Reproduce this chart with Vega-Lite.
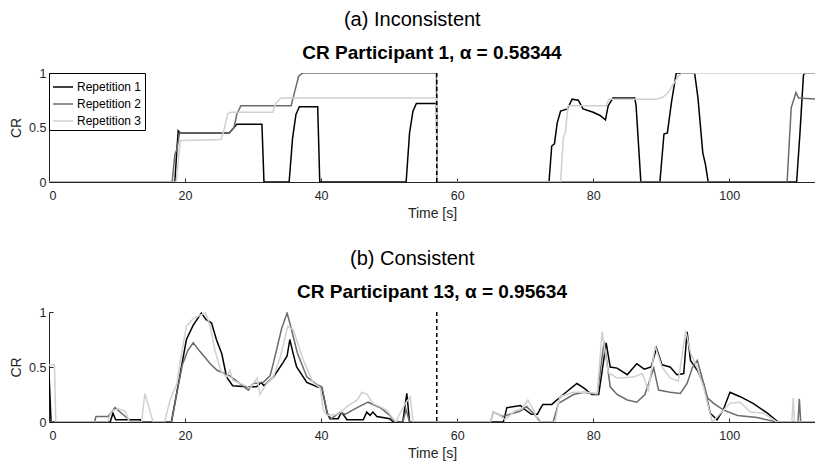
{
  "$schema": "https://vega.github.io/schema/vega-lite/v6.json",
  "padding": {"left": 9, "top": 10, "right": 0, "bottom": 0},
  "background": "white",
  "config": {
    "font": "Liberation Sans",
    "view": {"stroke": null},
    "concat": {"spacing": 28},
    "axis": {"grid": false, "domainColor": "#262626", "tickColor": "#262626", "labelColor": "#262626", "titleColor": "#262626", "labelFontSize": 12.5, "titleFontSize": 14, "titleFontWeight": "normal", "tickSize": -4, "domainWidth": 1},
    "axisX": {"labelPadding": 11, "titlePadding": 5},
    "axisY": {"labelPadding": 7, "titlePadding": 5}
  },
  "datasets": {
    "top": [
      {"rep": "Repetition 1", "t": 0, "v": 0}, {"rep": "Repetition 1", "t": 18.5, "v": 0}, {"rep": "Repetition 1", "t": 18.8, "v": 0.3}, {"rep": "Repetition 1", "t": 19.0, "v": 0.47}, {"rep": "Repetition 1", "t": 19.3, "v": 0.45}, {"rep": "Repetition 1", "t": 26.5, "v": 0.45}, {"rep": "Repetition 1", "t": 27.2, "v": 0.5}, {"rep": "Repetition 1", "t": 27.6, "v": 0.53}, {"rep": "Repetition 1", "t": 31.3, "v": 0.53}, {"rep": "Repetition 1", "t": 31.6, "v": 0}, {"rep": "Repetition 1", "t": 35.3, "v": 0}, {"rep": "Repetition 1", "t": 35.8, "v": 0.4}, {"rep": "Repetition 1", "t": 36.3, "v": 0.62}, {"rep": "Repetition 1", "t": 36.8, "v": 0.69}, {"rep": "Repetition 1", "t": 39.5, "v": 0.69}, {"rep": "Repetition 1", "t": 39.8, "v": 0}, {"rep": "Repetition 1", "t": 52.5, "v": 0}, {"rep": "Repetition 1", "t": 53.0, "v": 0.45}, {"rep": "Repetition 1", "t": 53.5, "v": 0.65}, {"rep": "Repetition 1", "t": 54.0, "v": 0.72}, {"rep": "Repetition 1", "t": 56.95, "v": 0.72}, {"rep": "Repetition 1", "t": 57.05, "v": 0}, {"rep": "Repetition 1", "t": 73.5, "v": 0}, {"rep": "Repetition 1", "t": 73.9, "v": 0.33}, {"rep": "Repetition 1", "t": 74.3, "v": 0.35}, {"rep": "Repetition 1", "t": 74.7, "v": 0.54}, {"rep": "Repetition 1", "t": 75.2, "v": 0.65}, {"rep": "Repetition 1", "t": 76.2, "v": 0.67}, {"rep": "Repetition 1", "t": 76.9, "v": 0.76}, {"rep": "Repetition 1", "t": 77.8, "v": 0.75}, {"rep": "Repetition 1", "t": 78.5, "v": 0.67}, {"rep": "Repetition 1", "t": 80, "v": 0.64}, {"rep": "Repetition 1", "t": 81, "v": 0.61}, {"rep": "Repetition 1", "t": 81.8, "v": 0.57}, {"rep": "Repetition 1", "t": 82.2, "v": 0.7}, {"rep": "Repetition 1", "t": 82.9, "v": 0.77}, {"rep": "Repetition 1", "t": 86.1, "v": 0.77}, {"rep": "Repetition 1", "t": 86.3, "v": 0.7}, {"rep": "Repetition 1", "t": 87.0, "v": 0}, {"rep": "Repetition 1", "t": 89.8, "v": 0}, {"rep": "Repetition 1", "t": 90.4, "v": 0.44}, {"rep": "Repetition 1", "t": 90.9, "v": 0.45}, {"rep": "Repetition 1", "t": 91.5, "v": 0.73}, {"rep": "Repetition 1", "t": 92.2, "v": 1.0}, {"rep": "Repetition 1", "t": 94.9, "v": 1.0}, {"rep": "Repetition 1", "t": 95.4, "v": 0.77}, {"rep": "Repetition 1", "t": 96.1, "v": 0.27}, {"rep": "Repetition 1", "t": 96.5, "v": 0.16}, {"rep": "Repetition 1", "t": 96.9, "v": 0}, {"rep": "Repetition 1", "t": 109.9, "v": 0}, {"rep": "Repetition 1", "t": 110.4, "v": 0.46}, {"rep": "Repetition 1", "t": 110.9, "v": 0.98}, {"rep": "Repetition 1", "t": 111.1, "v": 1.0}, {"rep": "Repetition 1", "t": 113, "v": 1.0},
      {"rep": "Repetition 2", "t": 0, "v": 0}, {"rep": "Repetition 2", "t": 18.1, "v": 0}, {"rep": "Repetition 2", "t": 18.5, "v": 0.25}, {"rep": "Repetition 2", "t": 18.8, "v": 0.3}, {"rep": "Repetition 2", "t": 19.2, "v": 0.45}, {"rep": "Repetition 2", "t": 26.5, "v": 0.45}, {"rep": "Repetition 2", "t": 27.2, "v": 0.5}, {"rep": "Repetition 2", "t": 27.6, "v": 0.62}, {"rep": "Repetition 2", "t": 28.2, "v": 0.7}, {"rep": "Repetition 2", "t": 35.6, "v": 0.7}, {"rep": "Repetition 2", "t": 36.2, "v": 0.85}, {"rep": "Repetition 2", "t": 36.7, "v": 0.97}, {"rep": "Repetition 2", "t": 37.3, "v": 1.0}, {"rep": "Repetition 2", "t": 56.95, "v": 1.0}, {"rep": "Repetition 2", "t": 57.05, "v": 0}, {"rep": "Repetition 2", "t": 108.5, "v": 0}, {"rep": "Repetition 2", "t": 109.1, "v": 0.68}, {"rep": "Repetition 2", "t": 109.8, "v": 0.82}, {"rep": "Repetition 2", "t": 110.2, "v": 0.77}, {"rep": "Repetition 2", "t": 113, "v": 0.76},
      {"rep": "Repetition 3", "t": 0, "v": 0}, {"rep": "Repetition 3", "t": 18.7, "v": 0}, {"rep": "Repetition 3", "t": 19.3, "v": 0.38}, {"rep": "Repetition 3", "t": 19.7, "v": 0.38}, {"rep": "Repetition 3", "t": 25.3, "v": 0.39}, {"rep": "Repetition 3", "t": 25.8, "v": 0.5}, {"rep": "Repetition 3", "t": 26.3, "v": 0.63}, {"rep": "Repetition 3", "t": 26.8, "v": 0.64}, {"rep": "Repetition 3", "t": 32.9, "v": 0.64}, {"rep": "Repetition 3", "t": 33.3, "v": 0.72}, {"rep": "Repetition 3", "t": 34.1, "v": 0.77}, {"rep": "Repetition 3", "t": 56.95, "v": 0.77}, {"rep": "Repetition 3", "t": 57.05, "v": 0}, {"rep": "Repetition 3", "t": 75.2, "v": 0}, {"rep": "Repetition 3", "t": 75.6, "v": 0.41}, {"rep": "Repetition 3", "t": 75.9, "v": 0.45}, {"rep": "Repetition 3", "t": 76.3, "v": 0.7}, {"rep": "Repetition 3", "t": 81.9, "v": 0.7}, {"rep": "Repetition 3", "t": 82.3, "v": 0.76}, {"rep": "Repetition 3", "t": 89.3, "v": 0.76}, {"rep": "Repetition 3", "t": 90.3, "v": 0.78}, {"rep": "Repetition 3", "t": 91, "v": 0.82}, {"rep": "Repetition 3", "t": 91.8, "v": 0.9}, {"rep": "Repetition 3", "t": 92.5, "v": 0.97}, {"rep": "Repetition 3", "t": 93.1, "v": 1.0}, {"rep": "Repetition 3", "t": 113, "v": 1.0}
    ],
    "bottom": [
      {"rep": "Repetition 1", "t": 0, "v": 0.45}, {"rep": "Repetition 1", "t": 0.3, "v": 0}, {"rep": "Repetition 1", "t": 9.0, "v": 0}, {"rep": "Repetition 1", "t": 9.4, "v": 0.08}, {"rep": "Repetition 1", "t": 9.8, "v": 0.02}, {"rep": "Repetition 1", "t": 13.4, "v": 0.02}, {"rep": "Repetition 1", "t": 13.6, "v": 0}, {"rep": "Repetition 1", "t": 18, "v": 0}, {"rep": "Repetition 1", "t": 19.2, "v": 0.41}, {"rep": "Repetition 1", "t": 20.2, "v": 0.75}, {"rep": "Repetition 1", "t": 21.2, "v": 0.88}, {"rep": "Repetition 1", "t": 22.4, "v": 0.99}, {"rep": "Repetition 1", "t": 23.1, "v": 0.93}, {"rep": "Repetition 1", "t": 23.9, "v": 0.9}, {"rep": "Repetition 1", "t": 24.6, "v": 0.75}, {"rep": "Repetition 1", "t": 25.4, "v": 0.62}, {"rep": "Repetition 1", "t": 26.1, "v": 0.41}, {"rep": "Repetition 1", "t": 27, "v": 0.33}, {"rep": "Repetition 1", "t": 29, "v": 0.32}, {"rep": "Repetition 1", "t": 30.5, "v": 0.32}, {"rep": "Repetition 1", "t": 31.2, "v": 0.36}, {"rep": "Repetition 1", "t": 31.6, "v": 0.33}, {"rep": "Repetition 1", "t": 32.3, "v": 0.37}, {"rep": "Repetition 1", "t": 33, "v": 0.41}, {"rep": "Repetition 1", "t": 34.4, "v": 0.54}, {"rep": "Repetition 1", "t": 35.0, "v": 0.6}, {"rep": "Repetition 1", "t": 35.4, "v": 0.75}, {"rep": "Repetition 1", "t": 35.9, "v": 0.62}, {"rep": "Repetition 1", "t": 36.4, "v": 0.5}, {"rep": "Repetition 1", "t": 37.9, "v": 0.36}, {"rep": "Repetition 1", "t": 39.4, "v": 0.32}, {"rep": "Repetition 1", "t": 40.1, "v": 0.31}, {"rep": "Repetition 1", "t": 40.9, "v": 0.08}, {"rep": "Repetition 1", "t": 41.3, "v": 0.03}, {"rep": "Repetition 1", "t": 42.5, "v": 0.03}, {"rep": "Repetition 1", "t": 43, "v": 0.09}, {"rep": "Repetition 1", "t": 43.8, "v": 0.02}, {"rep": "Repetition 1", "t": 46.2, "v": 0.02}, {"rep": "Repetition 1", "t": 46.7, "v": 0.09}, {"rep": "Repetition 1", "t": 47.2, "v": 0.06}, {"rep": "Repetition 1", "t": 47.6, "v": 0.09}, {"rep": "Repetition 1", "t": 48.2, "v": 0.05}, {"rep": "Repetition 1", "t": 50.1, "v": 0.03}, {"rep": "Repetition 1", "t": 50.6, "v": 0}, {"rep": "Repetition 1", "t": 52, "v": 0}, {"rep": "Repetition 1", "t": 52.6, "v": 0.26}, {"rep": "Repetition 1", "t": 53, "v": 0}, {"rep": "Repetition 1", "t": 66.8, "v": 0}, {"rep": "Repetition 1", "t": 67.3, "v": 0.13}, {"rep": "Repetition 1", "t": 69.3, "v": 0.15}, {"rep": "Repetition 1", "t": 69.8, "v": 0.12}, {"rep": "Repetition 1", "t": 70.9, "v": 0.07}, {"rep": "Repetition 1", "t": 71.8, "v": 0.07}, {"rep": "Repetition 1", "t": 72.2, "v": 0.12}, {"rep": "Repetition 1", "t": 72.6, "v": 0.16}, {"rep": "Repetition 1", "t": 73.9, "v": 0.16}, {"rep": "Repetition 1", "t": 75.6, "v": 0.25}, {"rep": "Repetition 1", "t": 77.6, "v": 0.35}, {"rep": "Repetition 1", "t": 78.6, "v": 0.31}, {"rep": "Repetition 1", "t": 79.8, "v": 0.25}, {"rep": "Repetition 1", "t": 80.8, "v": 0.25}, {"rep": "Repetition 1", "t": 81.4, "v": 0.5}, {"rep": "Repetition 1", "t": 81.9, "v": 0.72}, {"rep": "Repetition 1", "t": 82.5, "v": 0.5}, {"rep": "Repetition 1", "t": 83.5, "v": 0.49}, {"rep": "Repetition 1", "t": 85, "v": 0.43}, {"rep": "Repetition 1", "t": 86.4, "v": 0.53}, {"rep": "Repetition 1", "t": 87.5, "v": 0.48}, {"rep": "Repetition 1", "t": 88.5, "v": 0.5}, {"rep": "Repetition 1", "t": 89.3, "v": 0.67}, {"rep": "Repetition 1", "t": 90.1, "v": 0.52}, {"rep": "Repetition 1", "t": 91.3, "v": 0.5}, {"rep": "Repetition 1", "t": 92.3, "v": 0.43}, {"rep": "Repetition 1", "t": 93.3, "v": 0.44}, {"rep": "Repetition 1", "t": 93.8, "v": 0.82}, {"rep": "Repetition 1", "t": 94.3, "v": 0.56}, {"rep": "Repetition 1", "t": 95.3, "v": 0.47}, {"rep": "Repetition 1", "t": 96.2, "v": 0.35}, {"rep": "Repetition 1", "t": 97.2, "v": 0.08}, {"rep": "Repetition 1", "t": 98.2, "v": 0.02}, {"rep": "Repetition 1", "t": 99.1, "v": 0.11}, {"rep": "Repetition 1", "t": 100.1, "v": 0.27}, {"rep": "Repetition 1", "t": 101.6, "v": 0.23}, {"rep": "Repetition 1", "t": 103.5, "v": 0.17}, {"rep": "Repetition 1", "t": 105.6, "v": 0.08}, {"rep": "Repetition 1", "t": 107.2, "v": 0}, {"rep": "Repetition 1", "t": 113, "v": 0},
      {"rep": "Repetition 2", "t": 0, "v": 0}, {"rep": "Repetition 2", "t": 6.7, "v": 0}, {"rep": "Repetition 2", "t": 6.9, "v": 0.05}, {"rep": "Repetition 2", "t": 8.7, "v": 0.05}, {"rep": "Repetition 2", "t": 9.7, "v": 0.13}, {"rep": "Repetition 2", "t": 11.6, "v": 0.03}, {"rep": "Repetition 2", "t": 12.2, "v": 0}, {"rep": "Repetition 2", "t": 18, "v": 0}, {"rep": "Repetition 2", "t": 18.6, "v": 0.2}, {"rep": "Repetition 2", "t": 19.6, "v": 0.52}, {"rep": "Repetition 2", "t": 20.4, "v": 0.65}, {"rep": "Repetition 2", "t": 21.2, "v": 0.72}, {"rep": "Repetition 2", "t": 22.2, "v": 0.64}, {"rep": "Repetition 2", "t": 23.7, "v": 0.53}, {"rep": "Repetition 2", "t": 24.7, "v": 0.47}, {"rep": "Repetition 2", "t": 26.6, "v": 0.42}, {"rep": "Repetition 2", "t": 29.3, "v": 0.29}, {"rep": "Repetition 2", "t": 30, "v": 0.35}, {"rep": "Repetition 2", "t": 31.5, "v": 0.36}, {"rep": "Repetition 2", "t": 32.5, "v": 0.42}, {"rep": "Repetition 2", "t": 33.0, "v": 0.54}, {"rep": "Repetition 2", "t": 33.7, "v": 0.72}, {"rep": "Repetition 2", "t": 34.2, "v": 0.85}, {"rep": "Repetition 2", "t": 35, "v": 0.99}, {"rep": "Repetition 2", "t": 35.4, "v": 0.9}, {"rep": "Repetition 2", "t": 36.5, "v": 0.63}, {"rep": "Repetition 2", "t": 37.9, "v": 0.41}, {"rep": "Repetition 2", "t": 39.4, "v": 0.34}, {"rep": "Repetition 2", "t": 40.1, "v": 0.32}, {"rep": "Repetition 2", "t": 40.9, "v": 0.08}, {"rep": "Repetition 2", "t": 41.5, "v": 0.03}, {"rep": "Repetition 2", "t": 42.8, "v": 0.09}, {"rep": "Repetition 2", "t": 43.5, "v": 0.07}, {"rep": "Repetition 2", "t": 45.3, "v": 0.13}, {"rep": "Repetition 2", "t": 46.9, "v": 0.18}, {"rep": "Repetition 2", "t": 48.7, "v": 0.13}, {"rep": "Repetition 2", "t": 50.1, "v": 0.06}, {"rep": "Repetition 2", "t": 50.6, "v": 0.02}, {"rep": "Repetition 2", "t": 51, "v": 0}, {"rep": "Repetition 2", "t": 52, "v": 0}, {"rep": "Repetition 2", "t": 52.5, "v": 0.11}, {"rep": "Repetition 2", "t": 53, "v": 0}, {"rep": "Repetition 2", "t": 64.9, "v": 0}, {"rep": "Repetition 2", "t": 65.3, "v": 0.09}, {"rep": "Repetition 2", "t": 66.7, "v": 0.05}, {"rep": "Repetition 2", "t": 69.3, "v": 0.1}, {"rep": "Repetition 2", "t": 70.2, "v": 0.14}, {"rep": "Repetition 2", "t": 71.2, "v": 0.08}, {"rep": "Repetition 2", "t": 72, "v": 0.02}, {"rep": "Repetition 2", "t": 72.2, "v": 0}, {"rep": "Repetition 2", "t": 74.1, "v": 0}, {"rep": "Repetition 2", "t": 74.9, "v": 0.17}, {"rep": "Repetition 2", "t": 77.1, "v": 0.25}, {"rep": "Repetition 2", "t": 78.6, "v": 0.27}, {"rep": "Repetition 2", "t": 80.6, "v": 0.25}, {"rep": "Repetition 2", "t": 81.6, "v": 0.73}, {"rep": "Repetition 2", "t": 82.5, "v": 0.32}, {"rep": "Repetition 2", "t": 83.5, "v": 0.25}, {"rep": "Repetition 2", "t": 85, "v": 0.2}, {"rep": "Repetition 2", "t": 86.4, "v": 0.18}, {"rep": "Repetition 2", "t": 87.6, "v": 0.25}, {"rep": "Repetition 2", "t": 88.9, "v": 0.49}, {"rep": "Repetition 2", "t": 89.6, "v": 0.29}, {"rep": "Repetition 2", "t": 91.3, "v": 0.27}, {"rep": "Repetition 2", "t": 92.8, "v": 0.26}, {"rep": "Repetition 2", "t": 93.8, "v": 0.35}, {"rep": "Repetition 2", "t": 94.6, "v": 0.5}, {"rep": "Repetition 2", "t": 95.3, "v": 0.56}, {"rep": "Repetition 2", "t": 95.7, "v": 0.47}, {"rep": "Repetition 2", "t": 96.8, "v": 0.22}, {"rep": "Repetition 2", "t": 97.7, "v": 0.17}, {"rep": "Repetition 2", "t": 99.1, "v": 0.11}, {"rep": "Repetition 2", "t": 101.2, "v": 0.06}, {"rep": "Repetition 2", "t": 104.1, "v": 0.04}, {"rep": "Repetition 2", "t": 107, "v": 0}, {"rep": "Repetition 2", "t": 110.1, "v": 0}, {"rep": "Repetition 2", "t": 110.3, "v": 0.21}, {"rep": "Repetition 2", "t": 110.5, "v": 0}, {"rep": "Repetition 2", "t": 113, "v": 0},
      {"rep": "Repetition 3", "t": 0, "v": 0.52}, {"rep": "Repetition 3", "t": 0.8, "v": 0.52}, {"rep": "Repetition 3", "t": 1.0, "v": 0}, {"rep": "Repetition 3", "t": 8.6, "v": 0}, {"rep": "Repetition 3", "t": 9.2, "v": 0.1}, {"rep": "Repetition 3", "t": 10.2, "v": 0.12}, {"rep": "Repetition 3", "t": 11.2, "v": 0.1}, {"rep": "Repetition 3", "t": 11.8, "v": 0}, {"rep": "Repetition 3", "t": 13.6, "v": 0}, {"rep": "Repetition 3", "t": 14.1, "v": 0.26}, {"rep": "Repetition 3", "t": 15.3, "v": 0}, {"rep": "Repetition 3", "t": 17, "v": 0}, {"rep": "Repetition 3", "t": 17.8, "v": 0.2}, {"rep": "Repetition 3", "t": 18.8, "v": 0.35}, {"rep": "Repetition 3", "t": 19.3, "v": 0.56}, {"rep": "Repetition 3", "t": 20.2, "v": 0.87}, {"rep": "Repetition 3", "t": 21.2, "v": 0.94}, {"rep": "Repetition 3", "t": 22.2, "v": 0.97}, {"rep": "Repetition 3", "t": 23, "v": 0.99}, {"rep": "Repetition 3", "t": 23.7, "v": 0.87}, {"rep": "Repetition 3", "t": 24.4, "v": 0.65}, {"rep": "Repetition 3", "t": 25.1, "v": 0.5}, {"rep": "Repetition 3", "t": 25.4, "v": 0.45}, {"rep": "Repetition 3", "t": 26.1, "v": 0.41}, {"rep": "Repetition 3", "t": 26.6, "v": 0.47}, {"rep": "Repetition 3", "t": 27, "v": 0.38}, {"rep": "Repetition 3", "t": 29.6, "v": 0.31}, {"rep": "Repetition 3", "t": 30.6, "v": 0.4}, {"rep": "Repetition 3", "t": 31, "v": 0.25}, {"rep": "Repetition 3", "t": 32, "v": 0.35}, {"rep": "Repetition 3", "t": 33, "v": 0.41}, {"rep": "Repetition 3", "t": 34, "v": 0.59}, {"rep": "Repetition 3", "t": 35.1, "v": 0.87}, {"rep": "Repetition 3", "t": 35.9, "v": 0.84}, {"rep": "Repetition 3", "t": 37.4, "v": 0.56}, {"rep": "Repetition 3", "t": 38.8, "v": 0.36}, {"rep": "Repetition 3", "t": 39.9, "v": 0.31}, {"rep": "Repetition 3", "t": 40.3, "v": 0.11}, {"rep": "Repetition 3", "t": 40.9, "v": 0.06}, {"rep": "Repetition 3", "t": 42.5, "v": 0.07}, {"rep": "Repetition 3", "t": 43.8, "v": 0.14}, {"rep": "Repetition 3", "t": 45.3, "v": 0.2}, {"rep": "Repetition 3", "t": 46, "v": 0.27}, {"rep": "Repetition 3", "t": 46.8, "v": 0.25}, {"rep": "Repetition 3", "t": 47.6, "v": 0.17}, {"rep": "Repetition 3", "t": 49.6, "v": 0.11}, {"rep": "Repetition 3", "t": 50.6, "v": 0.03}, {"rep": "Repetition 3", "t": 51, "v": 0}, {"rep": "Repetition 3", "t": 51.5, "v": 0.07}, {"rep": "Repetition 3", "t": 52.4, "v": 0.17}, {"rep": "Repetition 3", "t": 53.1, "v": 0.23}, {"rep": "Repetition 3", "t": 53.5, "v": 0}, {"rep": "Repetition 3", "t": 64.9, "v": 0}, {"rep": "Repetition 3", "t": 65.3, "v": 0.09}, {"rep": "Repetition 3", "t": 66.3, "v": 0.06}, {"rep": "Repetition 3", "t": 67, "v": 0.02}, {"rep": "Repetition 3", "t": 68.5, "v": 0.1}, {"rep": "Repetition 3", "t": 69.5, "v": 0.12}, {"rep": "Repetition 3", "t": 70.4, "v": 0.2}, {"rep": "Repetition 3", "t": 71.2, "v": 0.11}, {"rep": "Repetition 3", "t": 71.8, "v": 0.02}, {"rep": "Repetition 3", "t": 72.2, "v": 0}, {"rep": "Repetition 3", "t": 74.4, "v": 0}, {"rep": "Repetition 3", "t": 74.9, "v": 0.17}, {"rep": "Repetition 3", "t": 75.1, "v": 0.23}, {"rep": "Repetition 3", "t": 77.1, "v": 0.27}, {"rep": "Repetition 3", "t": 79, "v": 0.27}, {"rep": "Repetition 3", "t": 80.6, "v": 0.26}, {"rep": "Repetition 3", "t": 81.3, "v": 0.82}, {"rep": "Repetition 3", "t": 82.2, "v": 0.45}, {"rep": "Repetition 3", "t": 83.5, "v": 0.4}, {"rep": "Repetition 3", "t": 85.9, "v": 0.41}, {"rep": "Repetition 3", "t": 87.2, "v": 0.44}, {"rep": "Repetition 3", "t": 88.1, "v": 0.29}, {"rep": "Repetition 3", "t": 89.1, "v": 0.69}, {"rep": "Repetition 3", "t": 90.1, "v": 0.5}, {"rep": "Repetition 3", "t": 91.3, "v": 0.4}, {"rep": "Repetition 3", "t": 92.5, "v": 0.37}, {"rep": "Repetition 3", "t": 93.6, "v": 0.83}, {"rep": "Repetition 3", "t": 94.3, "v": 0.63}, {"rep": "Repetition 3", "t": 95.3, "v": 0.49}, {"rep": "Repetition 3", "t": 96.2, "v": 0.32}, {"rep": "Repetition 3", "t": 97.5, "v": 0}, {"rep": "Repetition 3", "t": 98.4, "v": 0.06}, {"rep": "Repetition 3", "t": 100.1, "v": 0.17}, {"rep": "Repetition 3", "t": 101.6, "v": 0.18}, {"rep": "Repetition 3", "t": 103.1, "v": 0.09}, {"rep": "Repetition 3", "t": 105, "v": 0.08}, {"rep": "Repetition 3", "t": 107, "v": 0}, {"rep": "Repetition 3", "t": 109.2, "v": 0}, {"rep": "Repetition 3", "t": 109.4, "v": 0.22}, {"rep": "Repetition 3", "t": 109.6, "v": 0}, {"rep": "Repetition 3", "t": 113, "v": 0}
    ],
    "marker": [{"t": 57}]
  },
  "vconcat": [
    {
      "title": {"text": "(a)  Inconsistent", "anchor": "middle", "fontSize": 20, "fontWeight": "normal", "color": "black", "offset": 14},
      "vconcat": [
        {
          "width": 766,
          "height": 109,
          "title": {"text": "CR Participant 1, α = 0.58344", "anchor": "middle", "fontSize": 19, "fontWeight": "bold", "color": "black", "offset": 4},
          "layer": [
            {
              "data": {"name": "top"},
              "mark": {"type": "line", "strokeWidth": 1.5, "clip": true},
              "encoding": {
                "x": {"field": "t", "type": "quantitative", "scale": {"domain": [0, 112.6], "nice": false, "zero": false}, "axis": {"values": [0, 20, 40, 60, 80, 100], "title": "Time [s]"}},
                "y": {"field": "v", "type": "quantitative", "scale": {"domain": [0, 1], "nice": false}, "axis": {"values": [0, 0.5, 1], "format": "~g", "title": "CR"}},
                "color": {"field": "rep", "type": "nominal", "scale": {"domain": ["Repetition 1", "Repetition 2", "Repetition 3"], "range": ["#000000", "#6b6b6b", "#d0d0d0"]}, "legend": {"orient": "top-left", "offset": 0, "title": null, "strokeColor": "black", "fillColor": "white", "padding": 3, "labelFontSize": 12, "labelColor": "black", "symbolType": "stroke", "symbolSize": 400, "symbolStrokeWidth": 1.5, "rowPadding": 0, "labelOffset": 3}}
              }
            },
            {
              "data": {"name": "marker"},
              "mark": {"type": "rule", "strokeDash": [4, 3], "strokeWidth": 1.5, "color": "black"},
              "encoding": {"x": {"field": "t", "type": "quantitative"}}
            }
          ]
        }
      ],
      "resolve": {"scale": {"color": "independent"}, "legend": {"color": "independent"}}
    },
    {
      "title": {"text": "(b)  Consistent", "anchor": "middle", "fontSize": 20, "fontWeight": "normal", "color": "black", "offset": 14},
      "vconcat": [
        {
          "width": 766,
          "height": 110,
          "title": {"text": "CR Participant 13, α = 0.95634", "anchor": "middle", "fontSize": 19, "fontWeight": "bold", "color": "black", "offset": 4},
          "layer": [
            {
              "data": {"name": "bottom"},
              "mark": {"type": "line", "strokeWidth": 1.5, "clip": true},
              "encoding": {
                "x": {"field": "t", "type": "quantitative", "scale": {"domain": [0, 112.6], "nice": false, "zero": false}, "axis": {"values": [0, 20, 40, 60, 80, 100], "title": "Time [s]"}},
                "y": {"field": "v", "type": "quantitative", "scale": {"domain": [0, 1], "nice": false}, "axis": {"values": [0, 0.5, 1], "format": "~g", "title": "CR"}},
                "color": {"field": "rep", "type": "nominal", "scale": {"domain": ["Repetition 1", "Repetition 2", "Repetition 3"], "range": ["#000000", "#6b6b6b", "#d0d0d0"]}, "legend": null}
              }
            },
            {
              "data": {"name": "marker"},
              "mark": {"type": "rule", "strokeDash": [4, 3], "strokeWidth": 1.5, "color": "black"},
              "encoding": {"x": {"field": "t", "type": "quantitative"}}
            }
          ]
        }
      ],
      "resolve": {"scale": {"color": "independent"}, "legend": {"color": "independent"}}
    }
  ],
  "resolve": {"scale": {"color": "independent"}, "legend": {"color": "independent"}}
}
